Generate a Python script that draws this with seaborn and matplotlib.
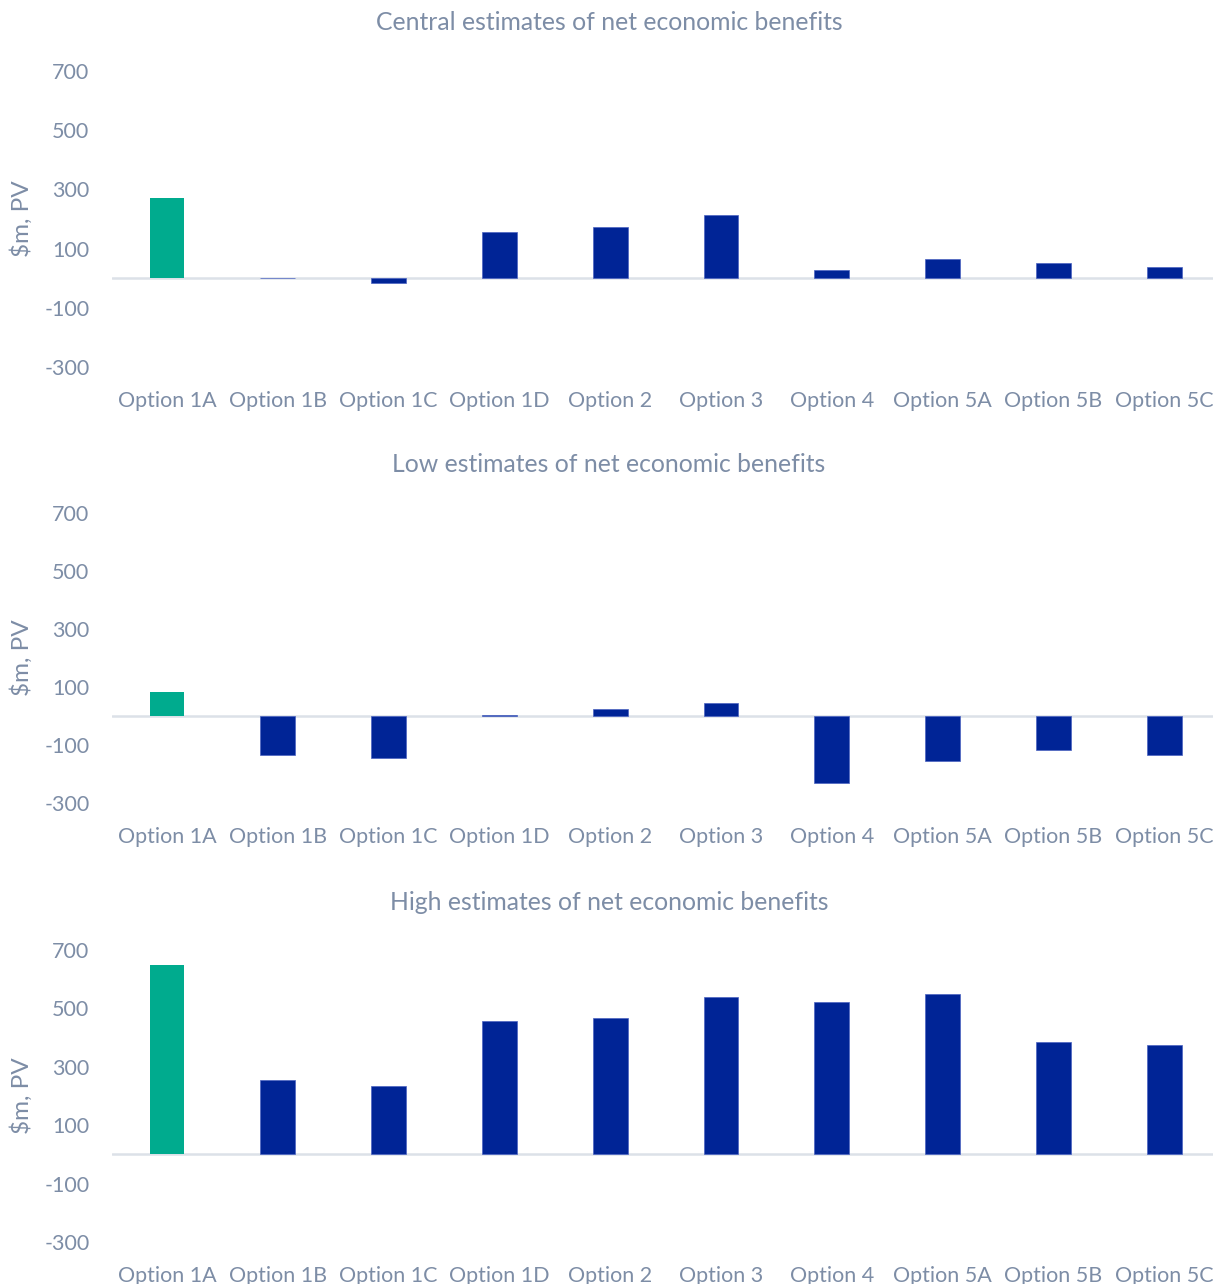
import matplotlib
matplotlib.use("Agg")
import matplotlib.pyplot as plt
import seaborn as sns
import pandas as pd

categories = ["Option 1A", "Option 1B", "Option 1C", "Option 1D", "Option 2",
              "Option 3", "Option 4", "Option 5A", "Option 5B", "Option 5C"]
central = [272, 2, -15, 156, 173, 215, 29, 65, 53, 39]
low = [83, -134, -144, 3, 23, 45, -231, -156, -116, -134]
high = [649, 255, 233, 456, 466, 538, 521, 549, 384, 374]
titles = ["Central estimates of net economic benefits",
          "Low estimates of net economic benefits",
          "High estimates of net economic benefits"]
yticks = [-300, -100, 100, 300, 500, 700]
ylabel = "$m, PV"

GREEN = "#00AB8E"
NAVY = "#002496"
TEXT = "#7D8DA6"
ZERO = "#DCE1E8"

sns.set_theme(style="white")
plt.rcParams["font.family"] = ["Lato", "DejaVu Sans"]

W, H = 1213, 1284
fig = plt.figure(figsize=(W / 100, H / 100), dpi=100)

# axes boxes in pixels: (top, bottom)
boxes = [(71, 367), (513, 803), (950, 1242)]
title_y = [23, 465, 903]
left_px, right_px = 111.6, 1219.6

palette = {c: (GREEN if i == 0 else NAVY) for i, c in enumerate(categories)}

for vals, title, (top, bot), ty in zip([central, low, high], titles, boxes, title_y):
    ax = fig.add_axes([left_px / W, 1 - bot / H, (right_px - left_px) / W, (bot - top) / H])
    df = pd.DataFrame({"option": categories, "value": vals})
    sns.barplot(data=df, x="option", y="value", hue="option", palette=palette,
                legend=False, width=0.315, ax=ax, saturation=1, linewidth=0)
    for i, patch in enumerate(ax.patches):
        if patch.get_facecolor()[1] < 0.3:
            patch.set_edgecolor("#4a62c0")
            patch.set_linewidth(0.5)
    ax.axhline(0, color=ZERO, lw=1.8, zorder=0.5)
    ax.set_ylim(-300, 700)
    ax.set_xlim(-0.5, len(categories) - 0.5)
    ax.set_yticks(yticks)
    ax.set_yticklabels([str(t) for t in yticks])
    ax.tick_params(axis="y", length=0, pad=16, labelsize=15.5, labelcolor=TEXT)
    ax.tick_params(axis="x", length=0, pad=17, labelsize=15.5, labelcolor=TEXT)
    ax.set_xlabel("")
    ax.set_ylabel("")
    for s in ax.spines.values():
        s.set_visible(False)
    ax.grid(False)
    fig.text(609 / W, 1 - ty / H, title, ha="center", va="center",
             fontsize=17.8, color=TEXT)
    fig.text(22 / W, 1 - ((top + bot) / 2) / H, ylabel, rotation=90,
             ha="center", va="center", fontsize=17.5, color=TEXT)

fig.savefig("out.png", dpi=100)
